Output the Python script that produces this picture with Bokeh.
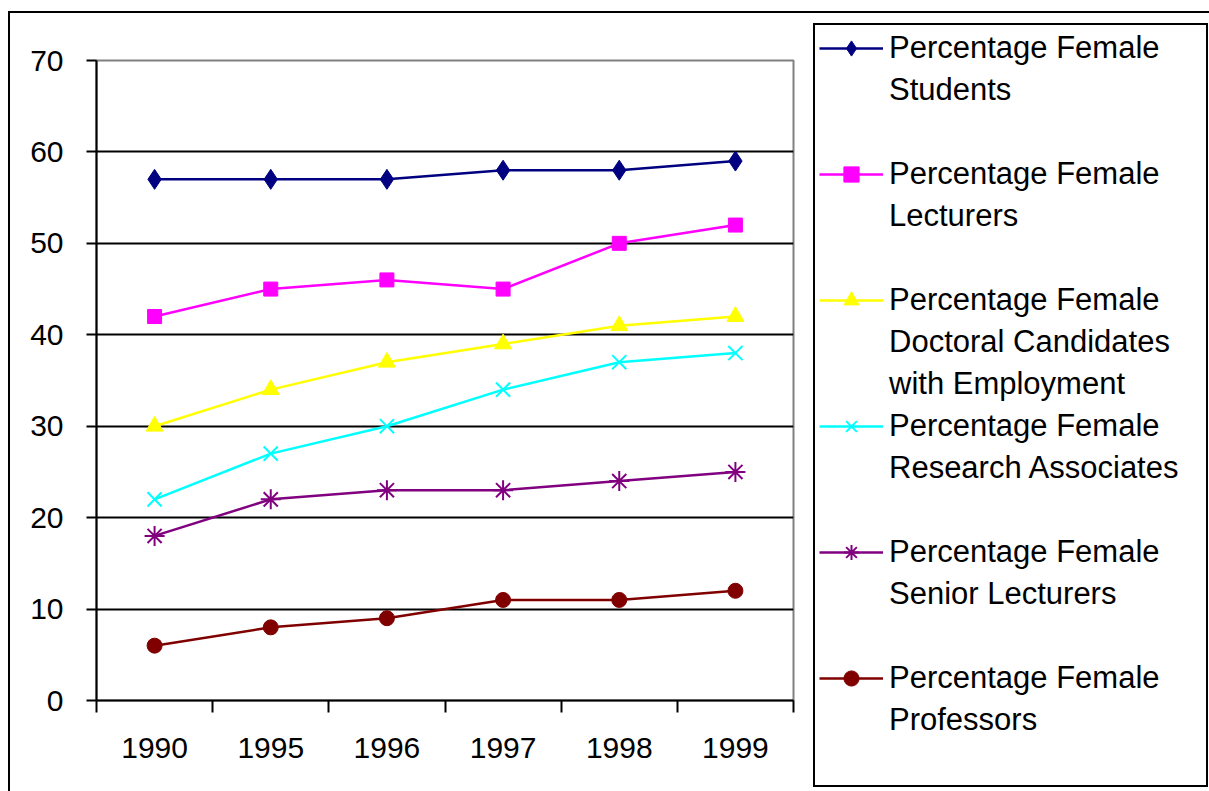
from bokeh.plotting import figure
from bokeh.layouts import row
from bokeh.models import Range1d, FixedTicker, Legend, LegendItem
from bokeh.embed import file_html
from bokeh.resources import INLINE

# ---- data ----
years = ["1990", "1995", "1996", "1997", "1998", "1999"]
students = [57, 57, 57, 58, 58, 59]
lecturers = [42, 45, 46, 45, 50, 52]
doctoral = [30, 34, 37, 39, 41, 42]
research = [22, 27, 30, 34, 37, 38]
senior = [18, 22, 23, 23, 24, 25]
professors = [6, 8, 9, 11, 11, 12]
y_ticks = [0, 10, 20, 30, 40, 50, 60, 70]

legend_lines = [
    ["Percentage Female", "Students"],
    ["Percentage Female", "Lecturers"],
    ["Percentage Female", "Doctoral Candidates", "with Employment"],
    ["Percentage Female", "Research Associates"],
    ["Percentage Female", "Senior Lecturers"],
    ["Percentage Female", "Professors"],
]

FONT = "Liberation Sans"
FS = "30px"
LFS = "31px"

W1, W2, H = 812, 397, 791
FL, FT, FR, FB = 96, 60, 793, 700  # chart frame edges in canvas px

x = list(range(len(years)))

# ---------------- chart ----------------
p = figure(width=W1, height=H, x_range=Range1d(-0.5, len(years) - 0.5),
           y_range=Range1d(0, 70), output_backend="svg", toolbar_location=None,
           min_border_left=FL, min_border_top=FT, min_border_right=W1 - FR,
           min_border_bottom=H - FB)
p.background_fill_color = "white"
p.border_fill_alpha = 0
p.outline_line_color = "#808080"
p.outline_line_width = 2
# outer chart border (top and left edges visible, rest cropped off)
p.styles = {
    "background": "linear-gradient(#000, #000) 8px 11px / 2px 3000px no-repeat, "
                  "linear-gradient(#000, #000) 8px 11px / 3000px 2px no-repeat, #fff"
}

p.yaxis.ticker = FixedTicker(ticks=y_ticks, minor_ticks=[])
p.yaxis.axis_line_color = "black"
p.yaxis.axis_line_width = 2
p.yaxis.major_tick_out = 10
p.yaxis.major_tick_in = 0
p.yaxis.major_tick_line_width = 2
p.yaxis.major_tick_line_color = "black"
p.yaxis.minor_tick_out = 0
p.yaxis.minor_tick_in = 0
p.yaxis.major_label_text_font = FONT
p.yaxis.major_label_text_font_size = FS
p.yaxis.major_label_text_color = "black"
p.yaxis.major_label_standoff = 23

# x axis: labels at category centres, tick marks at category boundaries
p.xaxis.ticker = FixedTicker(ticks=x, minor_ticks=[i - 0.5 for i in range(len(years) + 1)])
p.xaxis.major_label_overrides = {i: y for i, y in enumerate(years)}
p.xaxis.axis_line_color = "black"
p.xaxis.axis_line_width = 2
p.xaxis.major_tick_out = 0
p.xaxis.major_tick_in = 0
p.xaxis.minor_tick_out = 12
p.xaxis.minor_tick_in = 0
p.xaxis.minor_tick_line_width = 2
p.xaxis.minor_tick_line_color = "black"
p.xaxis.major_label_text_font = FONT
p.xaxis.major_label_text_font_size = FS
p.xaxis.major_label_text_color = "black"
p.xaxis.major_label_standoff = 25

p.xgrid.visible = False
p.ygrid.ticker = FixedTicker(ticks=y_ticks[1:-1], minor_ticks=[])
p.ygrid.grid_line_color = "black"
p.ygrid.grid_line_width = 2

series = [
    (students, "#000080", dict(marker="diamond", size=20)),
    (lecturers, "#FF00FF", dict(marker="square", size=14)),
    (doctoral, "#FFFF00", dict(marker="triangle", size=17)),
    (research, "#00FFFF", dict(marker="x", size=20, line_width=2)),
    (senior, "#800080", dict(marker="asterisk", size=20, line_width=2)),
    (professors, "#800000", dict(marker="circle", size=15)),
]

# ---------------- legend panel ----------------
pl = figure(width=W2, height=H, x_range=Range1d(0, 1), y_range=Range1d(0, 1),
            output_backend="svg", toolbar_location=None, min_border=0,
            x_axis_location=None, y_axis_location=None)
pl.grid.visible = False
pl.outline_line_color = None
pl.background_fill_alpha = 0
pl.border_fill_alpha = 0
pl.styles = {
    "background": "linear-gradient(#000, #000) 0px 11px / 3000px 2px no-repeat, #fff"
}
for fig in (p, pl):
    if "frame_align" in fig.properties():
        fig.frame_align = False

SLOTS = 3  # legend rows per entry
items = []
for (vals, col, mk), lines in zip(series, legend_lines):
    p.line(x, vals, line_color=col, line_width=2.5)
    p.scatter(x, vals, fill_color=col, line_color=col, **mk)
    # same series in the legend panel (hidden there; used only for the legend swatch)
    lr = pl.line(x, vals, line_color=col, line_width=2.5, visible=False)
    sr = pl.scatter(x, vals, fill_color=col, line_color=col, visible=False, **mk)
    items.append(LegendItem(label=lines[0], renderers=[lr, sr]))
    for t in lines[1:]:
        items.append(LegendItem(label=t, renderers=[]))
    for _ in range(SLOTS - len(lines)):
        items.append(LegendItem(label=" ", renderers=[]))

legend = Legend(items=items, location=(1, 4), orientation="vertical", ncols=1,
                glyph_width=64, glyph_height=38, label_height=38, label_width=313,
                spacing=4, padding=4, margin=0, label_standoff=6,
                label_text_font=FONT, label_text_font_size=LFS, label_text_color="black",
                border_line_color="black", border_line_width=2, border_line_alpha=1,
                background_fill_color="white", background_fill_alpha=1,
                inactive_fill_alpha=0)
pl.add_layout(legend)

layout = row(p, pl, spacing=0)
open("out.html", "w").write(file_html(layout, INLINE))
